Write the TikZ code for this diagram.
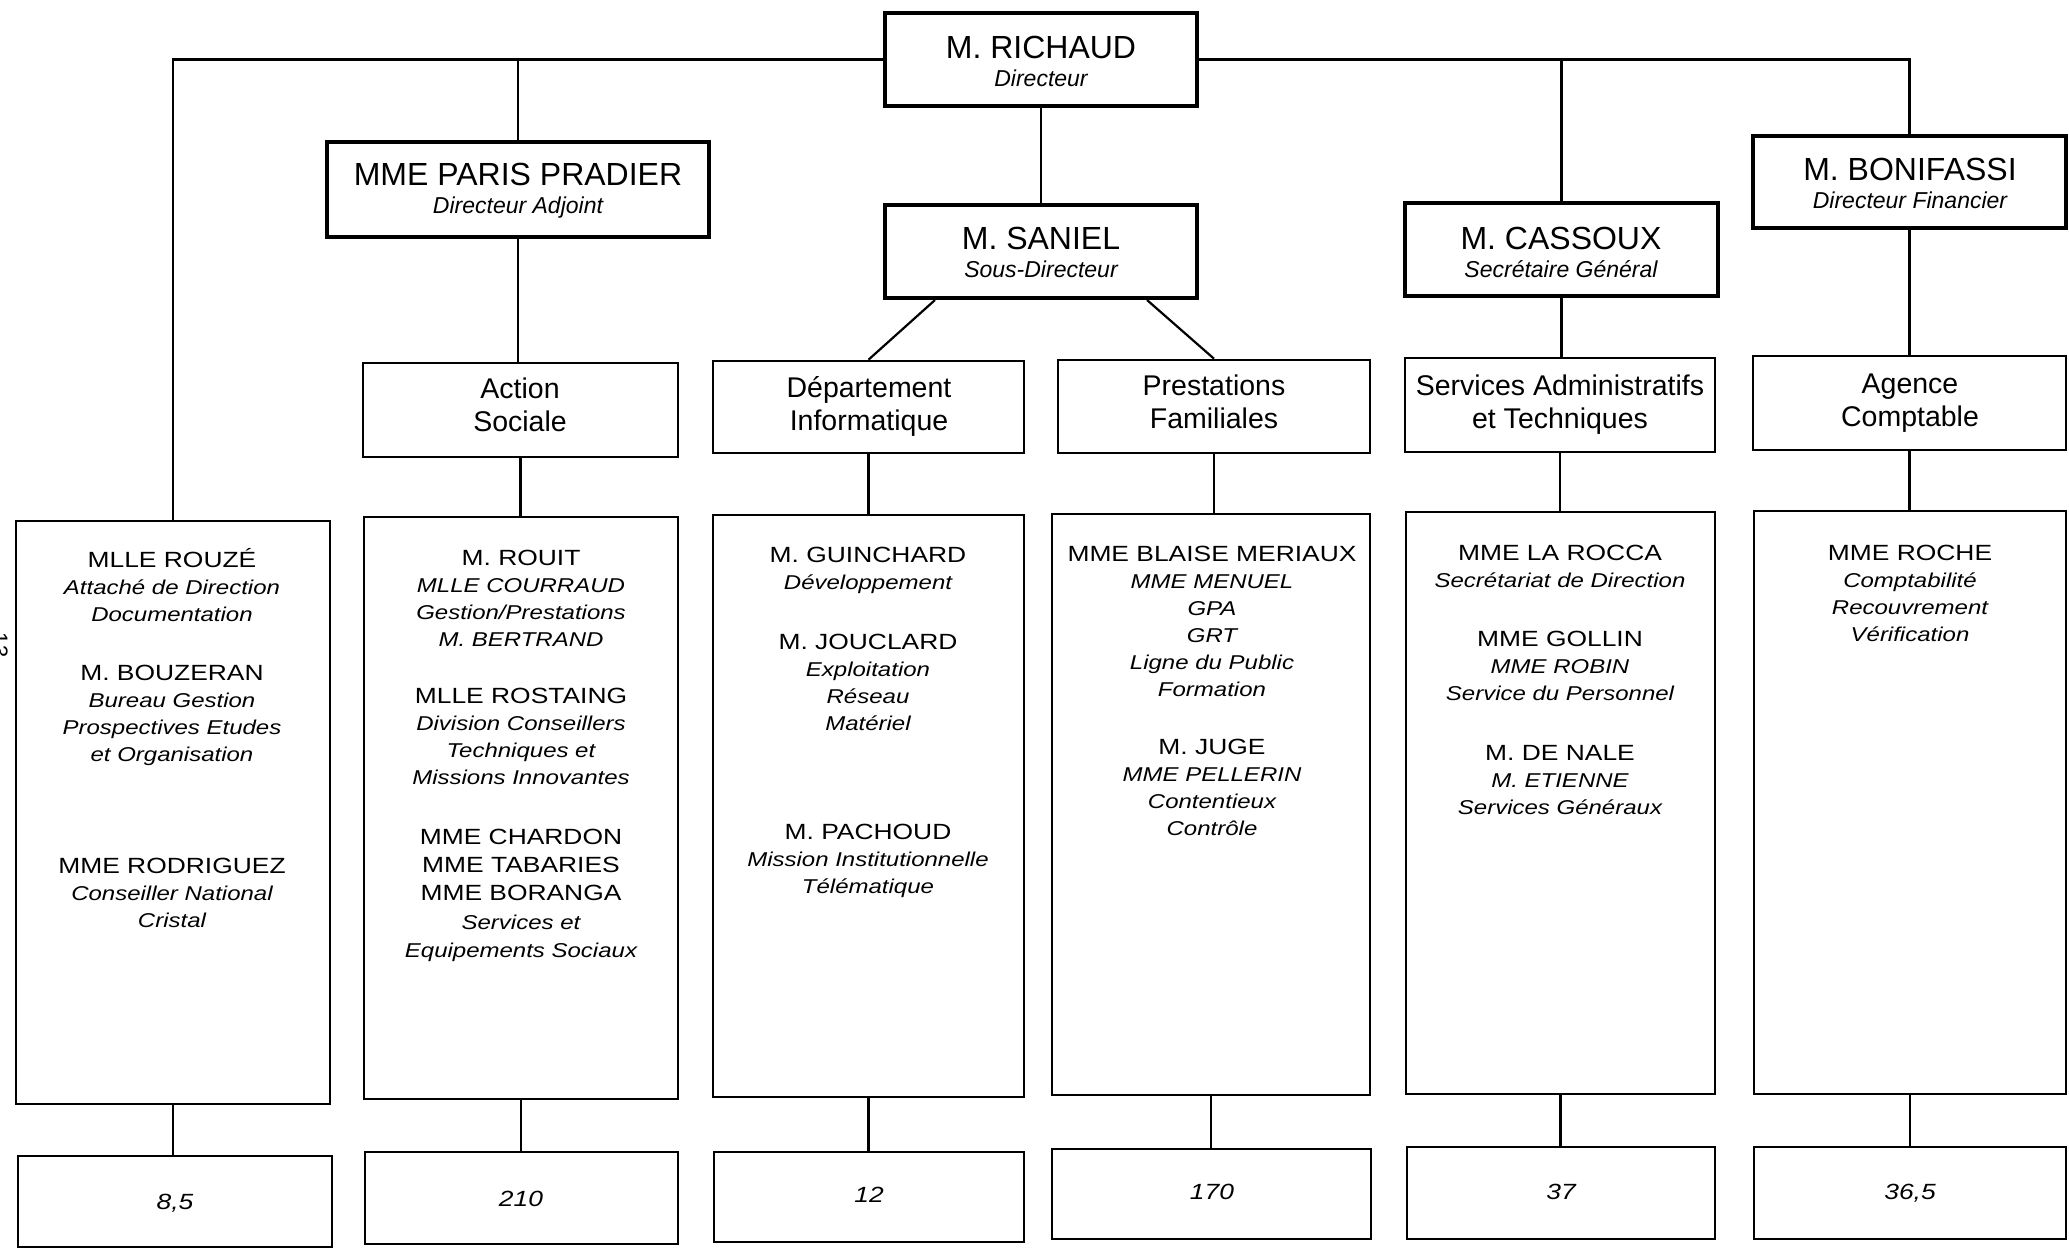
\documentclass[tikz,border=0pt]{standalone}
\usepackage{fontspec}
\setmainfont{Liberation Sans}
\newfontfamily\widesans[FakeStretch=1.2]{Liberation Sans}
\usetikzlibrary{fit,calc}

% a centred stack of lines whose baseline is that of its first line
\newcommand\stk[1]{\begin{tabular}[t]{@{}c@{}}#1\end{tabular}}
% staff lists: person names upright, roles and deputies in italics
\newcommand\Nm[1]{{\widesans\fontsize{11}{13.5}\selectfont #1}}
\newcommand\Rl[1]{{\widesans\fontsize{10}{13.5}\selectfont\itshape #1}}
\newcommand\Hd[1]{{\fontsize{16}{14}\selectfont #1}}
\newcommand\Hr[1]{{\fontsize{11.5}{14}\selectfont\itshape #1}}

\tikzset{
  boss/.style={draw, line width=2pt, inner sep=0pt},
  unit/.style={draw, line width=1.3pt, inner sep=0pt},
  staff/.style={draw, line width=1.1pt, inner sep=0pt},
  link/.style={line width=1.1pt},
  head/.style={anchor=base, inner sep=0pt, font=\fontsize{16}{14}\selectfont},
  dept/.style={anchor=base, inner sep=0pt, font=\fontsize{14.25}{16.5}\selectfont},
  list/.style={anchor=base, inner sep=0pt, font=\fontsize{11}{13.5}\selectfont},
  count/.style={anchor=base, inner sep=0pt, font=\widesans\itshape\fontsize{11}{13}\selectfont},
}

\begin{document}
\begin{tikzpicture}[x=0.5pt, y=-0.5pt]
\fill[white] (0,0) rectangle (2069,1250);
\useasboundingbox (0,0) rectangle (2069,1250);

% ---- management
\node[boss, fit={(885,13) (1197,106)}]   (rich) {};
\node[boss, fit={(885,205) (1197,298)}]  (san)  {};
\node[boss, fit={(327,142) (709,237)}]   (pp)   {};
\node[boss, fit={(1405,203) (1718,296)}] (cas)  {};
\node[boss, fit={(1753,136) (2066,228)}] (bon)  {};

\node[head] (rich-t) at (1041,58)  {\stk{\Hd{M. RICHAUD}\\ \Hr{Directeur}}};
\node[head] (san-t)  at (1041,249) {\stk{\Hd{M. SANIEL}\\ \Hr{Sous-Directeur}}};
\node[head] (pp-t)   at (518,185)  {\stk{\Hd{MME PARIS PRADIER}\\ \Hr{Directeur Adjoint}}};
\node[head] (cas-t)  at (1561,249) {\stk{\Hd{M. CASSOUX}\\ \Hr{Secrétaire Général}}};
\node[head] (bon-t)  at (1910,180) {\stk{\Hd{M. BONIFASSI}\\ \Hr{Directeur Financier}}};

% ---- departments
\node[unit, fit={(363,363) (678,457)}]   (as) {};
\node[unit, fit={(713,361) (1024,453)}]  (di) {};
\node[unit, fit={(1058,360) (1370,453)}] (pf) {};
\node[unit, fit={(1405,358) (1715,452)}] (sa) {};
\node[unit, fit={(1753,356) (2066,450)}] (ac) {};

\node[dept] (as-t) at (520,398)  {\stk{Action\\ Sociale}};
\node[dept] (di-t) at (869,397)  {\stk{Département\\ Informatique}};
\node[dept] (pf-t) at (1214,395) {\stk{Prestations\\ Familiales}};
\node[dept] (sa-t) at (1560,395) {\stk{Services Administratifs\\ et Techniques}};
\node[dept] (ac-t) at (1910,393) {\stk{Agence\\ Comptable}};

% ---- staff lists
\node[staff, fit={(16,521) (330,1104)}]    (b1) {};
\node[staff, fit={(364,517) (678,1099)}]   (b2) {};
\node[staff, fit={(713,515) (1024,1097)}]  (b3) {};
\node[staff, fit={(1052,514) (1370,1095)}] (b4) {};
\node[staff, fit={(1406,512) (1715,1094)}] (b5) {};
\node[staff, fit={(1754,511) (2066,1094)}] (b6) {};

\node[list] (b1-a) at (172,567) {\stk{\Nm{MLLE ROUZÉ}\\ \Rl{Attaché de Direction}\\ \Rl{Documentation}}};
\node[list] (b1-b) at (172,680) {\stk{\Nm{M. BOUZERAN}\\ \Rl{Bureau Gestion}\\ \Rl{Prospectives Etudes}\\ \Rl{et Organisation}}};
\node[list] (b1-c) at (172,873) {\stk{\Nm{MME RODRIGUEZ}\\ \Rl{Conseiller National}\\ \Rl{Cristal}}};

\node[list] (b2-a) at (521,565) {\stk{\Nm{M. ROUIT}\\ \Rl{MLLE COURRAUD}\\ \Rl{Gestion/Prestations}\\ \Rl{M. BERTRAND}}};
\node[list] (b2-b) at (521,703) {\stk{\Nm{MLLE ROSTAING}\\ \Rl{Division Conseillers}\\ \Rl{Techniques et}\\ \Rl{Missions Innovantes}}};
\node[list] (b2-c) at (521,844) {\stk{\Nm{MME CHARDON}\\[0.7pt] \Nm{MME TABARIES}\\[0.7pt] \Nm{MME BORANGA}\\[0.7pt] \Rl{Services et}\\[0.7pt] \Rl{Equipements Sociaux}}};

\node[list] (b3-a) at (868,562) {\stk{\Nm{M. GUINCHARD}\\ \Rl{Développement}}};
\node[list] (b3-b) at (868,649) {\stk{\Nm{M. JOUCLARD}\\ \Rl{Exploitation}\\ \Rl{Réseau}\\ \Rl{Matériel}}};
\node[list] (b3-c) at (868,839) {\stk{\Nm{M. PACHOUD}\\ \Rl{Mission Institutionnelle}\\ \Rl{Télématique}}};

\node[list] (b4-a) at (1212,561) {\stk{\Nm{MME BLAISE MERIAUX}\\ \Rl{MME MENUEL}\\ \Rl{GPA}\\ \Rl{GRT}\\ \Rl{Ligne du Public}\\ \Rl{Formation}}};
\node[list] (b4-b) at (1212,754) {\stk{\Nm{M. JUGE}\\ \Rl{MME PELLERIN}\\ \Rl{Contentieux}\\ \Rl{Contrôle}}};

\node[list] (b5-a) at (1560,560) {\stk{\Nm{MME LA ROCCA}\\ \Rl{Secrétariat de Direction}}};
\node[list] (b5-b) at (1560,646) {\stk{\Nm{MME GOLLIN}\\ \Rl{MME ROBIN}\\ \Rl{Service du Personnel}}};
\node[list] (b5-c) at (1560,760) {\stk{\Nm{M. DE NALE}\\ \Rl{M. ETIENNE}\\ \Rl{Services Généraux}}};

\node[list] (b6-a) at (1910,560) {\stk{\Nm{MME ROCHE}\\ \Rl{Comptabilité}\\ \Rl{Recouvrement}\\ \Rl{Vérification}}};

% ---- head counts
\node[staff, fit={(18,1156) (332,1247)}]    (n1) {};
\node[staff, fit={(365,1152) (678,1244)}]   (n2) {};
\node[staff, fit={(714,1152) (1024,1242)}]  (n3) {};
\node[staff, fit={(1052,1149) (1371,1239)}] (n4) {};
\node[staff, fit={(1407,1147) (1715,1239)}] (n5) {};
\node[staff, fit={(1754,1147) (2066,1239)}] (n6) {};

\node[count] (n1-t) at (175,1209)  {8,5};
\node[count] (n2-t) at (521,1206)  {210};
\node[count] (n3-t) at (869,1202)  {12};
\node[count] (n4-t) at (1212,1199) {170};
\node[count] (n5-t) at (1561,1199) {37};
\node[count] (n6-t) at (1910,1199) {36,5};

% ---- connectors
\draw[link] (rich.west) -| (b1.north);
\draw[link] (rich.east) -| (bon.north);
\draw[link] (pp.north) -- (pp.north |- rich.west);
\draw[link] (cas.north) -- (cas.north |- rich.east);
\draw[link] (rich.south) -- (san.north);
\draw[link] ($(san.south west)+(52,0)$) -- (di.north);
\draw[link] ($(san.south east)+(-52,0)$) -- (pf.north);
\draw[link] (pp.south) -- (pp.south |- as.north);
\draw[link] (cas.south) -- (cas.south |- sa.north);
\draw[link] (bon.south) -- (bon.south |- ac.north);
\draw[link] (as.south) -- (as.south |- b2.north);
\draw[link] (di.south) -- (di.south |- b3.north);
\draw[link] (pf.south) -- (pf.south |- b4.north);
\draw[link] (sa.south) -- (sa.south |- b5.north);
\draw[link] (ac.south) -- (ac.south |- b6.north);
\draw[link] (b1.south) -- (b1.south |- n1.north);
\draw[link] (b2.south) -- (b2.south |- n2.north);
\draw[link] (b3.south) -- (b3.south |- n3.north);
\draw[link] (b4.south) -- (b4.south |- n4.north);
\draw[link] (b5.south) -- (b5.south |- n5.north);
\draw[link] (b6.south) -- (b6.south |- n6.north);

% page number in the margin
\node[rotate=-90, inner sep=0pt, font=\fontsize{11}{13}\selectfont] (folio) at (0,645) {13};
\end{tikzpicture}
\end{document}
